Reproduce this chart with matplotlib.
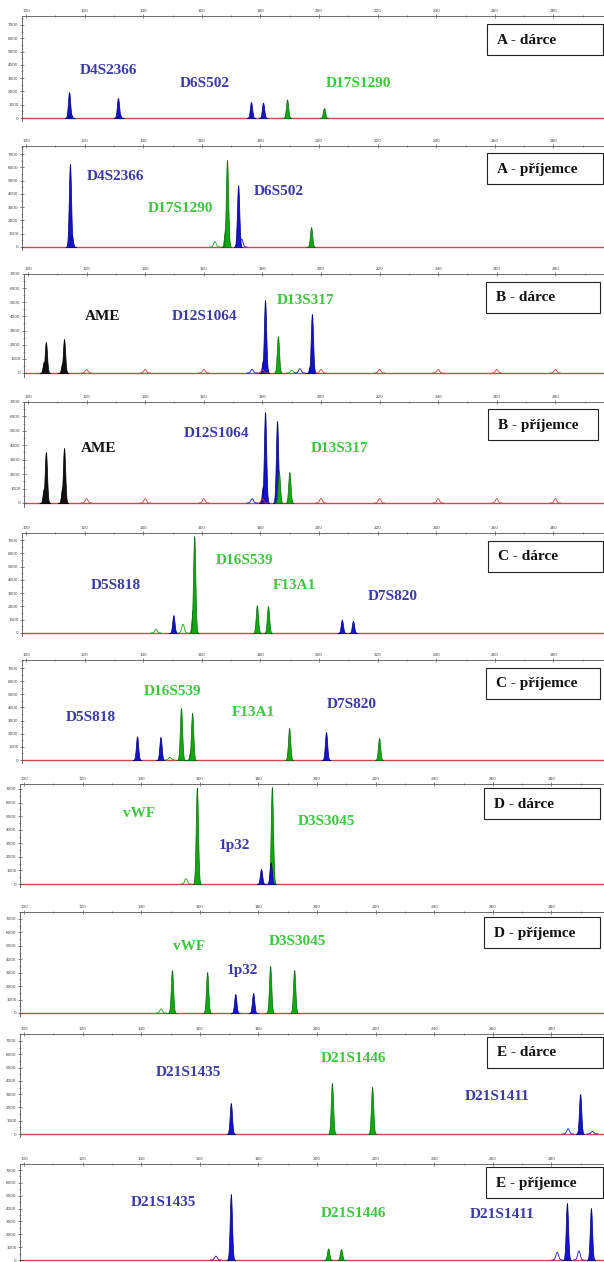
import numpy as np
import matplotlib
matplotlib.use("Agg")
import matplotlib.pyplot as plt
from matplotlib.patches import Rectangle
from matplotlib.ticker import MultipleLocator

# panel titles (top to bottom)
titles = ["A - dárce", "A - příjemce", "B - dárce", "B - příjemce",
          "C - dárce", "C - příjemce", "D - dárce", "D - příjemce",
          "E - dárce", "E - příjemce"]

# peaks per panel: (size bp, height RFU, dye)
peaks_A1 = [(114.7, 1950, "blue"), (115.2, 350, "blue"), (131.4, 1500, "blue"), (131.9, 300, "blue"),
            (176.8, 1200, "blue"), (180.9, 1150, "blue"), (189.1, 1400, "green"), (201.7, 750, "green")]
peaks_A2 = [(115.0, 6250, "blue"), (115.6, 900, "blue"), (168.0, 1400, "green"), (168.6, 6550, "green"),
            (172.4, 4650, "blue"), (197.3, 1500, "green")]
peaks_B1 = [(105.4, 800, "black"), (106.1, 2190, "black"), (111.7, 700, "black"), (112.3, 2400, "black"),
            (180.2, 900, "blue"), (180.9, 5160, "blue"), (185.3, 2600, "green"),
            (196.3, 500, "blue"), (196.9, 4170, "blue")]
peaks_B2 = [(105.4, 1000, "black"), (106.1, 3530, "black"), (111.7, 1100, "black"), (112.3, 3810, "black"),
            (180.2, 1200, "blue"), (180.9, 6300, "blue"), (185.0, 5680, "blue"), (185.6, 2200, "green"),
            (189.2, 2150, "green")]
peaks_C1 = [(150.3, 1350, "blue"), (156.9, 1750, "green"), (157.4, 7300, "green"), (178.8, 2100, "green"),
            (182.6, 2030, "green"), (207.8, 1000, "blue"), (211.6, 920, "blue")]
peaks_C2 = [(137.9, 1800, "blue"), (145.9, 1750, "blue"), (152.9, 3950, "green"), (156.2, 800, "green"),
            (156.7, 3580, "green"), (189.8, 2430, "green"), (202.4, 2130, "blue"), (220.5, 1670, "green")]
peaks_D1 = [(159.0, 7100, "green"), (180.9, 1100, "blue"), (184.6, 7150, "green"), (184.2, 1600, "blue")]
peaks_D2 = [(150.5, 3200, "green"), (162.5, 3050, "green"), (172.1, 1410, "blue"), (178.2, 1490, "blue"),
            (184.0, 3500, "green"), (192.2, 3200, "green")]
peaks_E1 = [(170.6, 2330, "blue"), (205.1, 3840, "green"), (218.8, 3540, "green"), (289.8, 3010, "blue")]
peaks_E2 = [(170.6, 5130, "blue"), (203.8, 900, "green"), (208.2, 850, "green"),
            (285.3, 4430, "blue"), (293.5, 4040, "blue")]

# small unfilled peaks (size standard, artefacts)
ladder_bp = [120, 140, 160, 180, 200, 220, 240, 260, 280]
open_A1 = []
open_A2 = [(164.5, 400, "green"), (173.6, 600, "blue")]
open_B1 = [(b, 250, "red") for b in ladder_bp] + [(176.5, 250, "blue"), (190.0, 200, "green"), (192.8, 300, "blue")]
open_B2 = [(b, 300, "red") for b in ladder_bp] + [(176.5, 300, "blue")]
open_C1 = [(144.4, 280, "green"), (153.6, 650, "green")]
open_C2 = [(149.1, 200, "green")]
open_D1 = [(155.3, 400, "green")]
open_D2 = [(146.8, 300, "green")]
open_E1 = [(285.7, 400, "blue"), (294.0, 200, "blue")]
open_E2 = [(165.5, 300, "blue"), (282.0, 600, "blue"), (289.4, 700, "blue")]

# marker names per panel
markers_A1 = ["D4S2366", "D6S502", "D17S1290"]
markers_A2 = ["D4S2366", "D17S1290", "D6S502"]
markers_B1 = ["AME", "D12S1064", "D13S317"]
markers_B2 = ["AME", "D12S1064", "D13S317"]
markers_C1 = ["D5S818", "D16S539", "F13A1", "D7S820"]
markers_C2 = ["D5S818", "D16S539", "F13A1", "D7S820"]
markers_D1 = ["vWF", "1p32", "D3S3045"]
markers_D2 = ["vWF", "1p32", "D3S3045"]
markers_E1 = ["D21S1435", "D21S1446", "D21S1411"]
markers_E2 = ["D21S1435", "D21S1446", "D21S1411"]

peaks = [peaks_A1, peaks_A2, peaks_B1, peaks_B2, peaks_C1, peaks_C2, peaks_D1, peaks_D2, peaks_E1, peaks_E2]
opens = [open_A1, open_A2, open_B1, open_B2, open_C1, open_C2, open_D1, open_D2, open_E1, open_E2]
markers = [markers_A1, markers_A2, markers_B1, markers_B2, markers_C1, markers_C2,
           markers_D1, markers_D2, markers_E1, markers_E2]

# ---- layout (pixels) ----
W, H = 604, 1262
PX_PER_BP = 2.93
# x of 100 bp, top line, 7000 tick, baseline, box top
geom = [(26, 16, 25, 118, 24), (26, 146, 154, 247, 153),
        (28, 274, 274, 373, 282), (28, 402, 402, 503, 409),
        (26, 533, 540, 633, 541), (26, 660, 668, 760, 668),
        (24, 784, 789, 884, 788), (24, 912, 919, 1013, 917),
        (24, 1034, 1041, 1134, 1037), (24, 1164, 1170, 1260, 1167)]
box_x = [(487, 603), (487, 603), (486, 600), (488, 598), (488, 603),
         (486, 600), (484, 600), (484, 600), (487, 603), (486, 603)]
# marker label centres (bp, RFU) and dye colour
label_pos = [
    [(128.0, 3610, "blue"), (160.9, 2630, "blue"), (213.5, 2630, "green")],
    [(130.5, 5340, "blue"), (152.6, 2935, "green"), (186.3, 4140, "blue")],
    [(125.6, 4030, "black"), (160.1, 4030, "blue"), (194.9, 5160, "green")],
    [(124.2, 3810, "black"), (164.3, 4850, "blue"), (206.3, 3810, "green")],
    [(130.5, 3610, "blue"), (174.7, 5420, "green"), (191.6, 3540, "green"), (225.3, 2710, "blue")],
    [(122.0, 3270, "blue"), (150.0, 5175, "green"), (177.5, 3650, "green"), (211.3, 4260, "blue")],
    [(139.1, 5160, "green"), (171.7, 2800, "blue"), (203.1, 4640, "green")],
    [(156.5, 4915, "green"), (174.4, 3200, "blue"), (193.5, 5290, "green")],
    [(156.0, 4665, "blue"), (212.6, 5720, "green"), (261.6, 2785, "blue")],
    [(147.6, 4510, "blue"), (212.6, 3655, "green"), (263.3, 3577, "blue")],
]

peak_col = {"blue": "#1414c8", "green": "#12a812", "black": "#111111", "red": "#d04040"}
edge_col = {"blue": "#000080", "green": "#0a6a0a", "black": "#000000", "red": "#d04040"}
text_col = {"blue": "#3a3aa8", "green": "#3cc83c", "black": "#111111"}
serif = ["Liberation Serif", "DejaVu Serif"]

fig = plt.figure(figsize=(W / 100, H / 100), dpi=100)
fig.patch.set_facecolor("white")


def draw_peak(ax, x0, h, dye, sigma=0.38, hollow=False):
    xs = np.linspace(x0 - 4 * sigma, x0 + 4 * sigma, 80)
    ys = h * np.exp(-0.5 * ((xs - x0) / sigma) ** 2)
    if hollow:
        ax.plot(xs, ys, color=peak_col[dye], lw=0.6)
    else:
        ax.fill_between(xs, 0, ys, facecolor=peak_col[dye], edgecolor=edge_col[dye], lw=0.5)


for i in range(10):
    x100, top, seven, zero, btop = geom[i]
    scale = (zero - seven) / 7000.0
    ytop = (zero - top) / scale
    ybot = -250
    bottom = zero - ybot * scale
    left = x100 - 1.5 * PX_PER_BP
    ax = fig.add_axes([left / W, 1 - bottom / H, (W - left) / W, (bottom - top) / H])
    ax.set_xlim(98.5, 100 + (W - x100) / PX_PER_BP)
    ax.set_ylim(ybot, ytop)

    for s in ["bottom", "right"]:
        ax.spines[s].set_visible(False)
    for s in ["top", "left"]:
        ax.spines[s].set_color("#555555")
        ax.spines[s].set_linewidth(0.6)
    ax.xaxis.tick_top()
    ax.xaxis.set_major_locator(MultipleLocator(20))
    ax.xaxis.set_minor_locator(MultipleLocator(10))
    ax.yaxis.set_major_locator(MultipleLocator(1000))
    ax.yaxis.set_minor_locator(MultipleLocator(500))
    ax.set_yticks(np.arange(0, 7001, 1000))
    ax.tick_params(which="major", labelsize=3, length=2.5, width=0.5, direction="inout",
                   pad=1, colors="#555555", labelcolor="#444444")
    ax.tick_params(which="minor", length=1.5, width=0.4, direction="inout", colors="#555555")

    ax.axhline(0, color="#d04a4a", lw=1.0, zorder=1)

    for bp, h, dye in opens[i]:
        draw_peak(ax, bp, h, dye, sigma=0.45, hollow=True)
    for bp, h, dye in peaks[i]:
        draw_peak(ax, bp, h, dye)

    for name, (bp, h, dye) in zip(markers[i], label_pos[i]):
        ax.text(bp, h, name, ha="center", va="center", color=text_col[dye],
                family=serif, weight="bold", fontsize=11)

    bl, br = box_x[i]
    fig.add_artist(Rectangle((bl / W, 1 - (btop + 31) / H), (br - bl) / W, 31 / H,
                             transform=fig.transFigure, facecolor="white",
                             edgecolor="#222222", lw=0.8))
    fig.text((bl + 10) / W, 1 - (btop + 16) / H, titles[i], ha="left", va="center",
             family=serif, weight="bold", fontsize=11, color="#111111")

fig.savefig("out.png", dpi=100, facecolor="white")
